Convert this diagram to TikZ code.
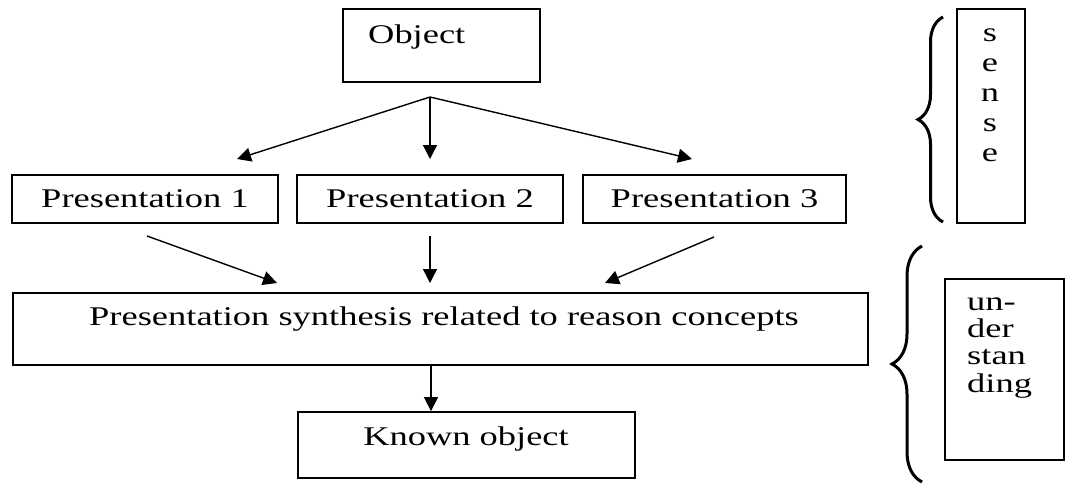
\documentclass[tikz,border=0pt]{standalone}
\usepackage{fontspec}
\setmainfont{Liberation Serif}
\usepackage{graphicx}
\usetikzlibrary{arrows.meta,decorations.pathreplacing}
\newcommand{\sx}[1]{\scalebox{1.35}[1]{#1}}
\begin{document}
\begin{tikzpicture}[x=1pt,y=-1pt,
  box/.style={draw, line width=1.8pt, inner sep=0pt, rectangle, font=\fontsize{27}{30}\selectfont},
  lbl/.style={inner sep=0pt, font=\fontsize{27}{30}\selectfont},
  arr/.style={line width=1.4pt, -{Triangle[length=14pt,width=14pt]}},
  brc/.style={line width=3pt, decorate}]
\useasboundingbox (0,0) rectangle (1070,483);
% boxes
\node[box, minimum width=197pt, minimum height=73pt] (obj) at (441.5,45.5) {};
\node[lbl, anchor=base west] (objt) at (368,43) {\sx{Object}};
\node[box, minimum width=266pt, minimum height=48pt] (p1) at (145,199) {\sx{Presentation 1}};
\node[box, minimum width=266pt, minimum height=48pt] (p2) at (430,199) {\sx{Presentation 2}};
\node[box, minimum width=263pt, minimum height=48pt] (p3) at (714.5,199) {\sx{Presentation 3}};
\node[box, minimum width=855pt, minimum height=72pt] (syn) at (440.5,329) {};
\node[lbl, anchor=base] (synt) at (444,325) {\sx{Presentation synthesis related to reason concepts}};
\node[box, minimum width=337pt, minimum height=66pt] (known) at (466.5,445) {};
\node[lbl, anchor=base] (knownt) at (466,445) {\sx{Known object}};
\node[box, minimum width=68pt, minimum height=214pt] (sensebox) at (991,116) {};
\node[lbl] (senset) at (990,95) {\sx{\begin{tabular}{@{}c@{}}s\\e\\n\\s\\e\end{tabular}}};
\node[box, minimum width=119pt, minimum height=181pt] (undbox) at (1004.5,369.5) {};
\node[lbl, anchor=north west, font=\fontsize{27}{27.3}\selectfont] (undt) at (967,291) {\sx{\begin{tabular}{@{}l@{}}un-\\der\\stan\\ding\end{tabular}}};
% braces
\draw[brc, decoration={brace, amplitude=25pt}] (943,222) -- (943,17);
\draw[brc, decoration={brace, amplitude=30pt}] (922,482) -- (922,246);
% connectors
\coordinate (split) at (430,97);
\coordinate (e1) at (237,159);
\coordinate (e2) at (430,159);
\coordinate (e3) at (692,159);
\draw[arr] (split) -- (e1);
\draw[arr] (split) -- (e2);
\draw[arr] (split) -- (e3);
\coordinate (s1) at (147,236);
\coordinate (t1) at (277,283);
\coordinate (s2) at (430,236);
\coordinate (t2) at (430,283);
\coordinate (s3) at (714,237);
\coordinate (t3) at (605,283);
\draw[arr] (s1) -- (t1);
\draw[arr] (s2) -- (t2);
\draw[arr] (s3) -- (t3);
\coordinate (k) at (431,0);
\draw[arr] (syn.south -| k) -- (known.north -| k);
\end{tikzpicture}
\end{document}
